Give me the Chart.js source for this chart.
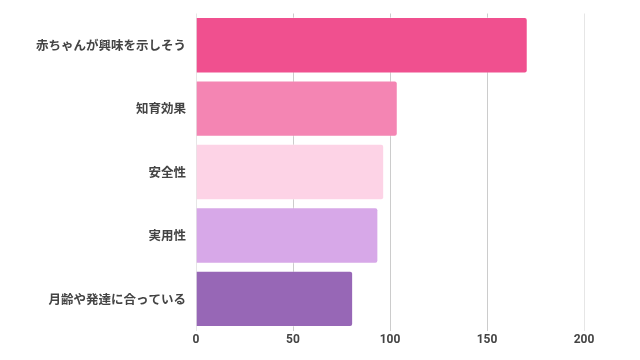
<!DOCTYPE html>
<html><head><meta charset="utf-8">
<script src="https://cdn.jsdelivr.net/npm/chart.js@4/dist/chart.umd.min.js"></script>
<style>html,body{margin:0;padding:0;background:#fff}#wrap{width:640px;height:360px}</style>
</head><body><div id="wrap"><canvas id="c" width="640" height="360"></canvas></div>
<script>
const categories = ["赤ちゃんが興味を示しそう","知育効果","安全性","実用性","月齢や発達に合っている"];
const values = [171, 104, 97, 94, 81];
const colors = ["#F0508F","#F485B3","#FDD3E6","#D7A8E8","#9767B6"];
const xTicks = [0, 50, 100, 150, 200];

new Chart(document.getElementById('c'), {
  type: 'bar',
  data: { labels: categories, datasets: [{ data: values, backgroundColor: colors,
    borderColor: 'rgba(255,255,255,0.35)', borderWidth: 1, borderSkipped: 'start',
    borderRadius: 3, categoryPercentage: 1, barPercentage: 0.89 }] },
  options: {
    indexAxis: 'y', responsive: false, animation: false,
    layout: { padding: { top: 13.5, right: 56, bottom: 11, left: 26 } },
    plugins: { legend: { display: false }, tooltip: { enabled: false } },
    scales: {
      x: { min: 0, max: 200,
        afterBuildTicks: s => { s.ticks = xTicks.map(v => ({ value: v })); },
        grid: { drawTicks: false, color: c => (c.tick && (c.tick.value === 0 || c.tick.value === 200)) ? '#e6e6e6' : '#cccccc' },
        border: { display: false },
        ticks: { padding: 2, color: '#444', font: { family: 'Roboto', size: 12, weight: 'bold' } } },
      y: { grid: { display: false, drawTicks: false }, border: { display: false },
        afterFit: s => { s.paddingTop = 0; s.paddingBottom = 0; },
        ticks: { padding: 10, color: '#444', font: { family: '"Noto Sans CJK JP"', size: 12.5, weight: 'bold' } } }
    }
  }
});
</script></body></html>
